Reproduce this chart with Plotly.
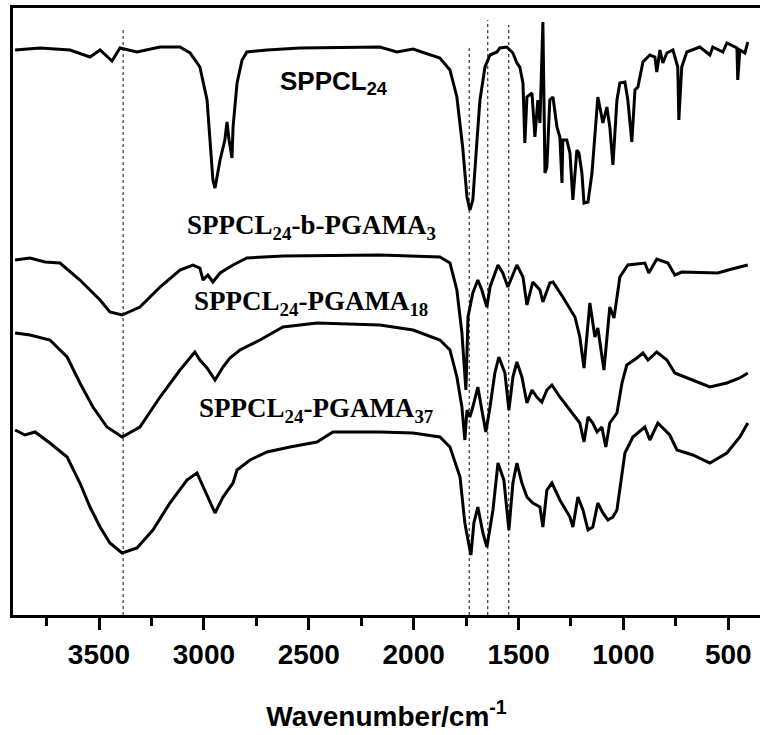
import plotly.graph_objects as go

# ---------------- data ----------------
# Wavenumber (cm-1) and offset transmittance (a.u.)
wn_sppcl24 = [3900, 3781, 3638, 3543, 3495, 3438, 3400, 3319, 3209, 3114, 3066, 3019, 2985, 2971,
              2957, 2947, 2923, 2900, 2890, 2880, 2866, 2861, 2842, 2818, 2795, 2699, 2542, 2161,
              2080, 2003, 1875, 1827, 1794, 1765, 1746, 1732, 1718, 1698, 1684, 1660, 1636, 1603,
              1589, 1556, 1527, 1508, 1494, 1479, 1470, 1460, 1436, 1422, 1408, 1398, 1384, 1374,
              1365, 1351, 1336, 1317, 1303, 1293, 1289, 1270, 1255, 1241, 1222, 1212, 1198, 1188,
              1169, 1150, 1136, 1122, 1107, 1098, 1079, 1065, 1050, 1031, 1017, 993, 979, 960,
              945, 931, 907, 874, 850, 841, 826, 812, 793, 764, 741, 736, 722, 698, 636, 588,
              574, 526, 507, 459, 455, 445, 421, 407]
t_sppcl24 = [565, 567, 565, 558, 565, 554, 567, 563, 568, 568, 562, 548, 515, 475,
             435, 427, 455, 475, 493, 475, 457, 488, 532, 555, 563, 565, 567, 568,
             563, 566, 557, 545, 518, 465, 418, 405, 415, 475, 515, 548, 560, 563,
             567, 568, 562, 552, 548, 532, 472, 518, 522, 478, 515, 492, 593, 442,
             448, 515, 518, 488, 478, 432, 475, 475, 462, 415, 465, 462, 442, 412,
             413, 442, 482, 518, 502, 492, 508, 488, 450, 515, 532, 533, 515, 473,
             525, 528, 553, 560, 558, 543, 565, 552, 562, 565, 548, 495, 548, 563, 568, 560,
             568, 563, 572, 567, 535, 565, 562, 573]

wn_pgama3 = [3900, 3829, 3757, 3686, 3591, 3495, 3448, 3390, 3305, 3209, 3114, 3052, 3019, 3004,
             2981, 2957, 2923, 2861, 2795, 2623, 2161, 1875, 1827, 1794, 1770, 1756, 1751, 1741,
             1718, 1694, 1675, 1651, 1636, 1598, 1575, 1551, 1508, 1479, 1460, 1432, 1398, 1384,
             1351, 1336, 1289, 1231, 1208, 1188, 1160, 1136, 1122, 1093, 1065, 1045, 1017, 979,
             898, 879, 841, 788, 755, 722, 550, 483, 407]
t_pgama3 = [355, 357, 353, 352, 335, 315, 303, 300, 308, 328, 345, 350, 347, 335,
            340, 333, 342, 350, 357, 359, 360, 358, 352, 325, 282, 232, 225, 298,
            322, 335, 325, 308, 328, 350, 342, 328, 350, 338, 310, 333, 325, 313,
            332, 333, 318, 298, 278, 247, 312, 278, 287, 245, 308, 297, 338, 350,
            352, 342, 356, 352, 340, 343, 342, 346, 350]

wn_pgama18 = [3900, 3829, 3734, 3652, 3591, 3529, 3462, 3390, 3305, 3209, 3114, 3043, 3019, 2985,
              2947, 2909, 2876, 2828, 2733, 2623, 2461, 2161, 2003, 1875, 1827, 1794, 1770, 1761,
              1756, 1746, 1732, 1718, 1694, 1675, 1656, 1636, 1613, 1594, 1565, 1546, 1527, 1508,
              1484, 1460, 1436, 1413, 1389, 1365, 1341, 1303, 1255, 1208, 1188, 1169, 1146, 1126,
              1103, 1084, 1065, 1031, 1007, 984, 936, 907, 883, 841, 793, 755, 731, 669, 588,
              507, 445, 407]
t_pgama18 = [282, 280, 275, 258, 232, 208, 188, 178, 188, 218, 245, 263, 255, 247,
             235, 248, 257, 265, 275, 288, 292, 290, 285, 275, 265, 238, 208, 185,
             175, 205, 198, 208, 228, 205, 183, 208, 242, 258, 242, 205, 238, 253,
             238, 212, 225, 218, 213, 225, 230, 218, 205, 192, 173, 198, 192, 183,
             188, 168, 192, 202, 232, 250, 257, 262, 255, 263, 255, 242, 240, 235, 228,
             232, 237, 242]

wn_pgama37 = [3900, 3853, 3805, 3734, 3652, 3591, 3543, 3495, 3448, 3390, 3319, 3243, 3162, 3081,
              3033, 3004, 2971, 2947, 2909, 2861, 2842, 2780, 2699, 2590, 2461, 2385, 2161, 2003,
              1875, 1827, 1779, 1756, 1741, 1727, 1713, 1694, 1670, 1651, 1622, 1598, 1570, 1546,
              1527, 1508, 1484, 1460, 1432, 1398, 1384, 1365, 1341, 1303, 1255, 1241, 1217, 1193,
              1169, 1146, 1122, 1098, 1074, 1050, 1031, 1012, 993, 955, 898, 874, 836, 779, 745,
              669, 588, 507, 445, 407]
t_pgama37 = [185, 180, 183, 172, 158, 132, 108, 88, 72, 62, 67, 85, 112, 135,
             142, 128, 112, 102, 118, 132, 145, 155, 163, 168, 173, 183, 183, 182,
             178, 168, 138, 92, 75, 60, 92, 108, 82, 68, 105, 152, 135, 85,
             132, 152, 132, 118, 112, 108, 88, 125, 132, 115, 98, 88, 118, 105,
             85, 88, 112, 102, 95, 98, 105, 132, 162, 178, 188, 175, 192, 180, 165,
             160, 152, 162, 178, 192]

series = [
    (wn_sppcl24, t_sppcl24),
    (wn_pgama3, t_pgama3),
    (wn_pgama18, t_pgama18),
    (wn_pgama37, t_pgama37),
]

# characteristic bands marked by dotted lines (cm-1) and their top heights
band_wn = [3385, 1735, 1647, 1547]
band_top = [588, 568, 595, 590]

tick_vals = [3500, 3000, 2500, 2000, 1500, 1000, 500]
tick_text = ["3500", "3000", "2500", "2000", "1500", "1000", "500"]

labels = [
    ("SPPCL<sub>24</sub>", 0.3548, 0.878, "Liberation Sans"),
    ("SPPCL<sub>24</sub>-b-PGAMA<sub>3</sub>", 0.2303, 0.640, "Liberation Serif"),
    ("SPPCL<sub>24</sub>-PGAMA<sub>18</sub>", 0.2396, 0.514, "Liberation Serif"),
    ("SPPCL<sub>24</sub>-PGAMA<sub>37</sub>", 0.2463, 0.338, "Liberation Serif"),
]

# ---------------- figure ----------------
fig = go.Figure()

for w, top in zip(band_wn, band_top):
    fig.add_trace(go.Scatter(x=[w, w], y=[0, top], mode="lines",
                             line=dict(color="#333333", width=1.2, dash="dot"),
                             hoverinfo="skip", showlegend=False))

for wn, t in series:
    fig.add_trace(go.Scatter(x=wn, y=t, mode="lines",
                             line=dict(color="black", width=3),
                             showlegend=False))

for text, x, y, fam in labels:
    fig.add_annotation(text=text, x=x, y=y, xref="paper", yref="paper",
                       xanchor="left", yanchor="middle", showarrow=False,
                       font=dict(family=fam, size=27 if "Serif" in fam else 26,
                                 color="black", weight="bold"))

fig.update_xaxes(range=[3910, 349], tickvals=tick_vals, ticktext=tick_text,
                 showline=True, linewidth=3, linecolor="black", mirror=True,
                 ticks="outside", ticklen=12, tickwidth=3, tickcolor="black",
                 minor=dict(dtick=250, tick0=0, ticks="outside", ticklen=8,
                            tickwidth=3, tickcolor="black"),
                 showgrid=False, zeroline=False,
                 tickfont=dict(family="Liberation Sans", size=28, color="black",
                               weight="bold"),
                 title=dict(text="Wavenumber/cm<sup>-1</sup>", standoff=38,
                            font=dict(family="Liberation Sans", size=28,
                                      color="black", weight="bold")))
fig.update_yaxes(range=[0, 607], showline=True, linewidth=3, linecolor="black",
                 mirror=False, showticklabels=False, ticks="", showgrid=False,
                 zeroline=False)

fig.update_layout(width=760, height=735, margin=dict(l=13, r=0, t=8, b=120, autoexpand=False),
                  paper_bgcolor="white", plot_bgcolor="white", showlegend=False)

fig.write_html("out.html", config={"displayModeBar": False},
               post_script="document.body.style.margin='0px';document.body.style.overflow='hidden';")
